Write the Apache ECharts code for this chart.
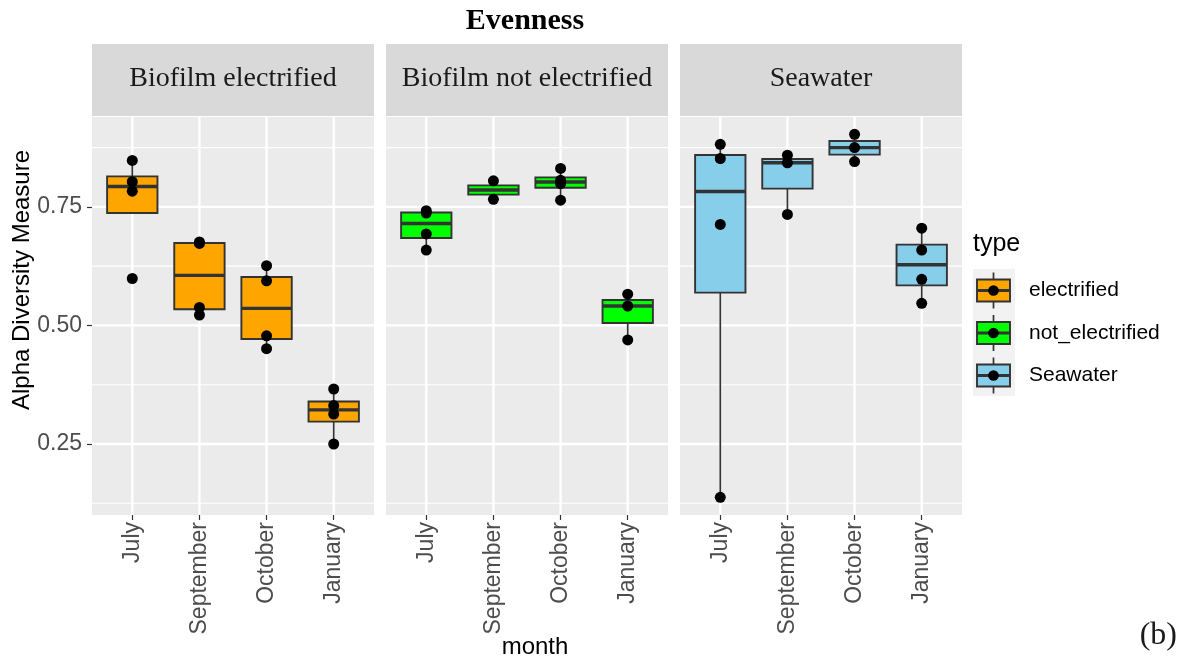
<!DOCTYPE html>
<html>
<head>
<meta charset="utf-8">
<script src="https://cdn.jsdelivr.net/npm/echarts@6/dist/echarts.min.js"></script>
<style>
html,body{margin:0;padding:0;background:#fff;}
#chart{width:1185px;height:662px;}
</style>
</head>
<body>
<div id="chart"></div>
<script>
// ---- data ----
const months = ['July', 'September', 'October', 'January'];
const facets = ['Biofilm electrified', 'Biofilm not electrified', 'Seawater'];
const typeNames = ['electrified', 'not_electrified', 'Seawater'];
// individual sample values per month (July, September, October, January)
const electrifiedValues = [
  [0.599, 0.783, 0.803, 0.848],
  [0.522, 0.538, 0.673, 0.676],
  [0.451, 0.478, 0.594, 0.626],
  [0.250, 0.313, 0.331, 0.366]
];
const notElectrifiedValues = [
  [0.659, 0.693, 0.737, 0.742],
  [0.766, 0.805],
  [0.764, 0.799, 0.806, 0.831],
  [0.4695, 0.541, 0.566]
];
const seawaterValues = [
  [0.1376, 0.713, 0.852, 0.882],
  [0.734, 0.843, 0.859],
  [0.8455, 0.875, 0.903],
  [0.5467, 0.5972, 0.659, 0.705]
];
const yTickValues = [0.25, 0.5, 0.75];
const yMinorValues = [0.125, 0.375, 0.625, 0.875];
const yMin = 0.1003, yMax = 0.9395;

// ---- styling / layout ----
const fillColors = ['#FFA500', '#00FF00', '#87CEEB'];
const panelLeft = [92, 386, 680];
const panelWidth = 282;
const panelTop = 117, panelBottom = 515;
const SANS = "'Liberation Sans', Arial, sans-serif";
const SERIF = "'Liberation Serif', 'Times New Roman', serif";
const allValues = [electrifiedValues, notElectrifiedValues, seawaterValues];

// ggplot-style (type 7) quantile
function quantile(sorted, p) {
  const h = (sorted.length - 1) * p;
  const lo = Math.floor(h), hi = Math.ceil(h);
  return sorted[lo] + (h - lo) * (sorted[hi] - sorted[lo]);
}
function boxStats(vals) {
  const s = vals.slice().sort((a, b) => a - b);
  const q1 = quantile(s, 0.25), med = quantile(s, 0.5), q3 = quantile(s, 0.75);
  const iqr = q3 - q1;
  const lowF = q1 - 1.5 * iqr, hiF = q3 + 1.5 * iqr;
  const inside = s.filter(v => v >= lowF && v <= hiF);
  return [Math.min(...inside), q1, med, q3, Math.max(...inside)];
}

const grids = [], xAxes = [], yAxes = [], series = [];

facets.forEach((f, k) => {
  grids.push({
    left: panelLeft[k], width: panelWidth, top: panelTop, height: panelBottom - panelTop,
    show: true, backgroundColor: '#EBEBEB', borderWidth: 0,
    containLabel: false, outerBoundsMode: 'none'
  });
  xAxes.push({
    type: 'value', gridIndex: k, min: -0.6, max: 3.6, position: 'bottom',
    axisLine: { show: false, onZero: false },
    splitLine: { show: false },
    axisTick: { show: true, customValues: [0, 1, 2, 3], length: 5, lineStyle: { color: '#333333', width: 1.2 } },
    axisLabel: {
      show: true, customValues: [0, 1, 2, 3], rotate: 90, margin: 7,
      formatter: v => months[Math.round(v)],
      color: '#4D4D4D', fontSize: 23, fontFamily: SANS
    }
  });
  yAxes.push({
    type: 'value', gridIndex: k, min: yMin, max: yMax, position: 'left',
    axisLine: { show: false, onZero: false },
    splitLine: { show: false },
    axisTick: { show: k === 0, customValues: yTickValues, length: 5, lineStyle: { color: '#333333', width: 1.2 } },
    axisLabel: {
      show: k === 0, customValues: yTickValues, margin: 10,
      formatter: v => v.toFixed(2),
      color: '#4D4D4D', fontSize: 23, fontFamily: SANS
    }
  });

  // gridlines (drawn through the axes' scales)
  const gridData = [];
  yMinorValues.forEach(v => gridData.push([1.5, v, 0, 0]));
  yTickValues.forEach(v => gridData.push([1.5, v, 1, 0]));
  months.forEach((m, i) => gridData.push([i, 0.5, 1, 1]));
  series.push({
    type: 'custom', xAxisIndex: k, yAxisIndex: k, z: 0, silent: true,
    data: gridData,
    renderItem: function (params, api) {
      const cs = params.coordSys;
      const major = api.value(2) === 1;
      const lw = major ? 2.3 : 1.1;
      if (api.value(3) === 0) {
        const p = api.coord([0, api.value(1)]);
        return { type: 'line', shape: { x1: cs.x, y1: p[1], x2: cs.x + cs.width, y2: p[1] },
          style: { stroke: '#FFFFFF', lineWidth: lw } };
      } else {
        const p = api.coord([api.value(0), 0.5]);
        return { type: 'line', shape: { x1: p[0], y1: cs.y, x2: p[0], y2: cs.y + cs.height },
          style: { stroke: '#FFFFFF', lineWidth: lw } };
      }
    }
  });

  // boxes
  const boxData = allValues[k].map((vals, i) => [i].concat(boxStats(vals)));
  const color = fillColors[k];
  series.push({
    type: 'custom', name: typeNames[k], xAxisIndex: k, yAxisIndex: k, z: 2,
    data: boxData,
    encode: { x: 0, y: [1, 2, 3, 4, 5] },
    renderItem: function (params, api) {
      const x = api.value(0);
      const lo = api.value(1), q1 = api.value(2), med = api.value(3), q3 = api.value(4), hi = api.value(5);
      const half = 0.375;
      const pLo = api.coord([x, lo]), pHi = api.coord([x, hi]);
      const tl = api.coord([x - half, q3]), br = api.coord([x + half, q1]);
      const m1 = api.coord([x - half, med]), m2 = api.coord([x + half, med]);
      return {
        type: 'group', children: [
          { type: 'line', shape: { x1: pHi[0], y1: pHi[1], x2: pHi[0], y2: tl[1] }, style: { stroke: '#333333', lineWidth: 1.7 } },
          { type: 'line', shape: { x1: pLo[0], y1: br[1], x2: pLo[0], y2: pLo[1] }, style: { stroke: '#333333', lineWidth: 1.7 } },
          { type: 'rect', shape: { x: tl[0], y: tl[1], width: br[0] - tl[0], height: br[1] - tl[1] },
            style: { fill: color, stroke: '#333333', lineWidth: 1.9 } },
          { type: 'line', shape: { x1: m1[0], y1: m1[1], x2: m2[0], y2: m2[1] }, style: { stroke: '#333333', lineWidth: 3.4 } }
        ]
      };
    }
  });

  // points
  const pts = [];
  allValues[k].forEach((vals, i) => vals.forEach(v => pts.push([i, v])));
  series.push({
    type: 'scatter', xAxisIndex: k, yAxisIndex: k, z: 3,
    data: pts, symbol: 'circle', symbolSize: 11,
    itemStyle: { color: '#000000', opacity: 1 },
    emphasis: { disabled: true }
  });
});

// ---- decorations: strips, titles, legend ----
const graphics = [];
facets.forEach((f, k) => {
  graphics.push({ type: 'rect', shape: { x: panelLeft[k], y: 44, width: panelWidth, height: 72 },
    style: { fill: '#D9D9D9' }, silent: true });
  graphics.push({ type: 'text', x: panelLeft[k] + panelWidth / 2, y: 79,
    style: { text: f, fill: '#1A1A1A', fontSize: 28, fontFamily: SERIF,
      align: 'center', verticalAlign: 'middle', textAlign: 'center', textVerticalAlign: 'middle' } });
});
graphics.push({ type: 'text', x: 525, y: 21,
  style: { text: 'Evenness', fill: '#000', fontSize: 30, fontWeight: 'bold', fontFamily: SERIF,
    align: 'center', verticalAlign: 'middle', textAlign: 'center', textVerticalAlign: 'middle' } });
graphics.push({ type: 'text', x: 22, y: 280, rotation: Math.PI / 2,
  style: { text: 'Alpha Diversity Measure', fill: '#000', fontSize: 24, fontFamily: SANS,
    align: 'center', verticalAlign: 'middle', textAlign: 'center', textVerticalAlign: 'middle' } });
graphics.push({ type: 'text', x: 535, y: 647,
  style: { text: 'month', fill: '#000', fontSize: 24, fontFamily: SANS,
    align: 'center', verticalAlign: 'middle', textAlign: 'center', textVerticalAlign: 'middle' } });
graphics.push({ type: 'text', x: 1177, y: 636,
  style: { text: '(b)', fill: '#1A1A1A', fontSize: 32, fontFamily: SERIF,
    align: 'right', verticalAlign: 'middle', textAlign: 'right', textVerticalAlign: 'middle' } });
// legend
graphics.push({ type: 'text', x: 973, y: 244,
  style: { text: 'type', fill: '#000', fontSize: 25, fontFamily: SANS,
    align: 'left', verticalAlign: 'middle', textAlign: 'left', textVerticalAlign: 'middle' } });
graphics.push({ type: 'rect', shape: { x: 973, y: 269, width: 42, height: 127 }, style: { fill: '#F2F2F2' } });
typeNames.forEach((t, i) => {
  const cy = 290.5 + i * 42.5;
  graphics.push({ type: 'line', shape: { x1: 993.5, y1: cy - 18, x2: 993.5, y2: cy + 18 }, style: { stroke: '#333333', lineWidth: 1.7 } });
  graphics.push({ type: 'rect', shape: { x: 977, y: cy - 11, width: 33, height: 22 }, style: { fill: fillColors[i], stroke: '#333333', lineWidth: 1.9 } });
  graphics.push({ type: 'line', shape: { x1: 977, y1: cy, x2: 1010, y2: cy }, style: { stroke: '#333333', lineWidth: 3.2 } });
  graphics.push({ type: 'circle', shape: { cx: 993.5, cy: cy, r: 5.3 }, style: { fill: '#000' } });
  graphics.push({ type: 'text', x: 1029, y: cy,
    style: { text: t, fill: '#000', fontSize: 21, fontFamily: SANS,
      align: 'left', verticalAlign: 'middle', textAlign: 'left', textVerticalAlign: 'middle' } });
});

const chart = echarts.init(document.getElementById('chart'), null, { renderer: 'canvas' });
chart.setOption({
  animation: false,
  backgroundColor: '#FFFFFF',
  grid: grids,
  xAxis: xAxes,
  yAxis: yAxes,
  series: series,
  graphic: graphics
});
</script>
</body>
</html>
